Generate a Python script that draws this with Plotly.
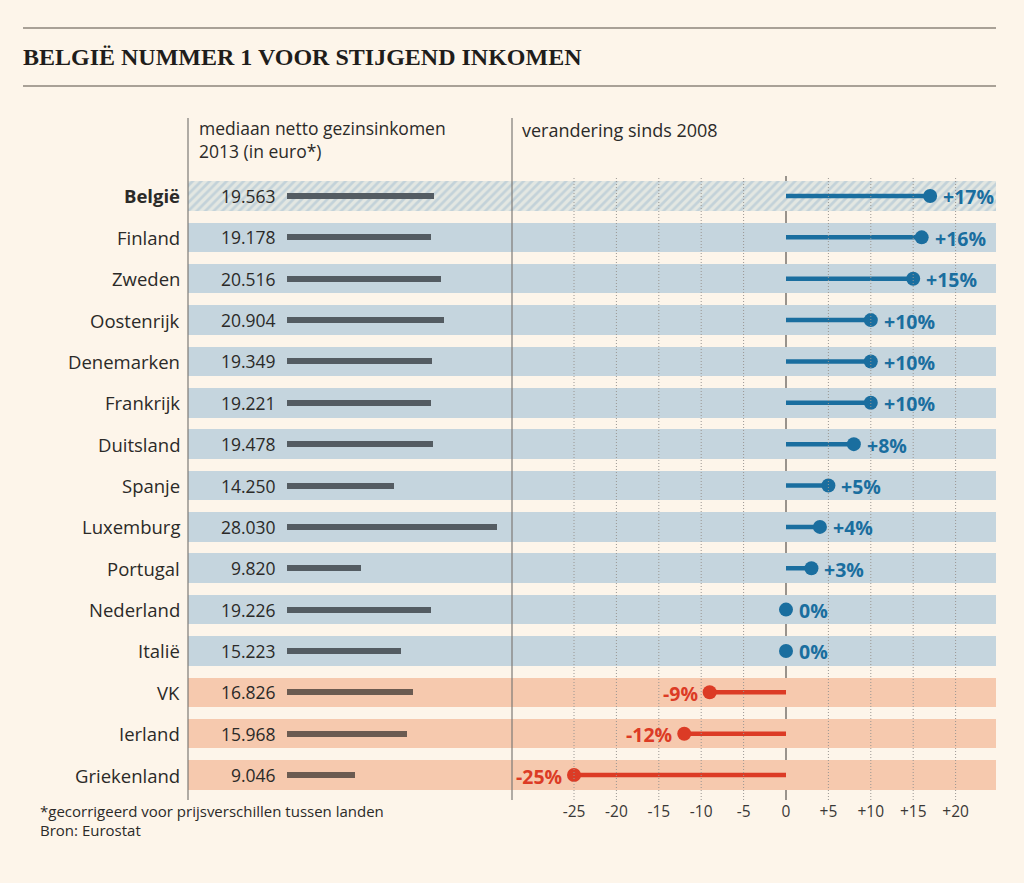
import plotly.graph_objects as go

# ---------------- data ----------------
countries = ["België", "Finland", "Zweden", "Oostenrijk", "Denemarken", "Frankrijk",
             "Duitsland", "Spanje", "Luxemburg", "Portugal", "Nederland", "Italië",
             "VK", "Ierland", "Griekenland"]
income_2013 = [19563, 19178, 20516, 20904, 19349, 19221, 19478, 14250, 28030,
               9820, 19226, 15223, 16826, 15968, 9046]
change_since_2008 = [17, 16, 15, 10, 10, 10, 8, 5, 4, 3, 0, 0, -9, -12, -25]
change_ticks = [-25, -20, -15, -10, -5, 0, 5, 10, 15, 20]
change_ticktext = ["-25", "-20", "-15", "-10", "-5", "0", "+5", "+10", "+15", "+20"]

title = "BELGIË NUMMER 1 VOOR STIJGEND INKOMEN"
hdr_income = ["mediaan netto gezinsinkomen", "2013 (in euro*)"]
hdr_change = "verandering sinds 2008"
footnotes = ["*gecorrigeerd voor prijsverschillen tussen landen", "Bron: Eurostat"]

# ---------------- style ----------------
W, H = 1024, 883
BG = "#fdf5ea"
BAND_BLUE = "#c5d5de"
BAND_RED = "#f6c9ae"
BLUE = "#1a6e9f"
RED = "#dc3b25"
BAR_GREY = "#545c62"
BAR_BROWN = "#6b5b51"
TXT = "#2b2a28"
FONT = "Open Sans"

def px(x):
    return x / W

def py(y):
    return 1 - y / H

n = len(countries)
rows = list(range(n))
neg = [c < 0 for c in change_since_2008]

# y axis: row i centred at pixel 196 + i*41.36
pitch = 41.36
y_top_px, y_bot_px = 118, 800
y_rng = [(y_bot_px - 196) / pitch, (y_top_px - 196) / pitch]

# income axis: 0 at px 287, 0.0075 px/euro
eur_per_px = 1 / 0.0075
inc_rng = [(188 - 287) * eur_per_px, (512 - 287) * eur_per_px]
# change axis: 0 at px 786, 8.48 px/unit
chg_rng = [(512 - 786) / 8.48, (996 - 786) / 8.48]

fig = go.Figure()

band_w = 29.5 / pitch
# plain bands
fig.add_trace(go.Bar(
    y=rows[1:], x=[1] * (n - 1), base=0, orientation="h", width=band_w,
    marker=dict(color=[BAND_RED if ng else BAND_BLUE for ng in neg[1:]], line_width=0),
    xaxis="x", yaxis="y", hoverinfo="skip", showlegend=False))
# hatched band for België
fig.add_trace(go.Bar(
    y=rows[:1], x=[1], base=0, orientation="h", width=band_w,
    marker=dict(color=BAND_BLUE, line_width=0,
                pattern=dict(shape="/", bgcolor="#e3e7e2", fgcolor="#c3d2d9",
                             size=6, solidity=0.45, fillmode="replace")),
    xaxis="x", yaxis="y", hoverinfo="skip", showlegend=False))

# income bars
fig.add_trace(go.Bar(
    y=rows, x=income_2013, base=0, orientation="h", width=6 / pitch,
    marker=dict(color=[BAR_BROWN if ng else BAR_GREY for ng in neg], line_width=0),
    xaxis="x2", yaxis="y", hoverinfo="skip", showlegend=False))

# lollipop stems
for sign, col in ((False, BLUE), (True, RED)):
    xs, ys = [], []
    for i, c in enumerate(change_since_2008):
        if (c < 0) == sign:
            xs += [0, c, None]
            ys += [i, i, None]
    fig.add_trace(go.Scatter(x=xs, y=ys, mode="lines", line=dict(color=col, width=4.5),
                             xaxis="x3", yaxis="y", hoverinfo="skip", showlegend=False))
# dots
fig.add_trace(go.Scatter(
    x=change_since_2008, y=rows, mode="markers",
    marker=dict(size=14, color=[RED if ng else BLUE for ng in neg], line_width=0),
    xaxis="x3", yaxis="y", hoverinfo="skip", showlegend=False))

annotations = []
shapes = []

# country labels
for i, c in enumerate(countries):
    txt = f"<b>{c}</b>" if i == 0 else c
    annotations.append(dict(x=px(182), xref="paper", y=i, yref="y", text=txt,
                            showarrow=False, xanchor="right", yanchor="middle",
                            font=dict(family=FONT, size=18.5, color=TXT)))
# income values
for i, v in enumerate(income_2013):
    s = f"{v:,}".replace(",", ".")
    annotations.append(dict(x=0, xref="x2", y=i, yref="y", text=s, showarrow=False,
                            xanchor="right", yanchor="middle", xshift=-9,
                            font=dict(family=FONT, size=17.5, color=TXT)))
# change labels
for i, c in enumerate(change_since_2008):
    if c < 0:
        s, anchor, shift, col = f"{c}%", "right", -10, RED
    else:
        s, anchor, shift, col = (f"+{c}%" if c > 0 else "0%"), "left", 11, BLUE
    annotations.append(dict(x=c, xref="x3", y=i, yref="y", text=f"<b>{s}</b>",
                            showarrow=False, xanchor=anchor, yanchor="middle",
                            xshift=shift, yshift=-1,
                            font=dict(family=FONT, size=19.5, color=col)))

# headers
annotations.append(dict(x=px(197), y=py(140), xref="paper", yref="paper",
                        text="<br>".join(hdr_income), align="left",
                        showarrow=False, xanchor="left", yanchor="middle",
                        font=dict(family=FONT, size=17.5, color=TXT)))
annotations.append(dict(x=px(520), y=py(129.5), xref="paper", yref="paper", text=hdr_change,
                        showarrow=False, xanchor="left", yanchor="middle",
                        font=dict(family=FONT, size=18, color=TXT)))
# title
annotations.append(dict(x=px(21), y=py(57), xref="paper", yref="paper",
                        text=f"<b>{title}</b>", showarrow=False, xanchor="left",
                        yanchor="middle",
                        font=dict(family="Liberation Serif", size=24, color="#1f1d1b")))
# footnotes
for k, f in enumerate(footnotes):
    annotations.append(dict(x=px(38), y=py(811 + 19 * k), xref="paper", yref="paper",
                            text=f, showarrow=False, xanchor="left", yanchor="middle",
                            font=dict(family=FONT, size=15, color=TXT)))

# title rules
for yy in (28, 86):
    shapes.append(dict(type="line", xref="paper", yref="paper", x0=px(23), x1=px(996),
                       y0=py(yy), y1=py(yy), line=dict(color="#8d857b", width=1.5)))
# column dividers
for xx in (188, 512):
    shapes.append(dict(type="line", xref="paper", yref="paper", x0=px(xx), x1=px(xx),
                       y0=py(118), y1=py(800), line=dict(color="#7d7a76", width=1.2),
                       layer="above"))
# grid lines on change axis
for t in change_ticks:
    if t == 0:
        shapes.append(dict(type="line", xref="x3", yref="paper", x0=t, x1=t,
                           y0=py(176), y1=py(800), line=dict(color="#77726d", width=1.5),
                           layer="below"))
    else:
        shapes.append(dict(type="line", xref="x3", yref="paper", x0=t, x1=t,
                           y0=py(178), y1=py(800),
                           line=dict(color="#9a9692", width=1, dash="1px,2px"),
                           layer="above"))

fig.update_layout(
    width=W, height=H, autosize=False,
    margin=dict(l=0, r=0, t=0, b=0),
    paper_bgcolor=BG, plot_bgcolor="rgba(0,0,0,0)",
    barmode="overlay", bargap=0,
    showlegend=False,
    xaxis=dict(domain=[px(188), px(996)], range=[0, 1], visible=False, fixedrange=True),
    xaxis2=dict(domain=[px(188), px(512)], range=inc_rng, visible=False, anchor="y"),
    xaxis3=dict(domain=[px(512), px(996)], range=chg_rng, anchor="y",
                tickmode="array", tickvals=change_ticks, ticktext=change_ticktext,
                showgrid=False, zeroline=False, showline=False, ticks="",
                tickfont=dict(family=FONT, size=15.5, color="#3a3836")),
    yaxis=dict(domain=[py(y_bot_px), py(y_top_px)], range=y_rng, visible=False),
    annotations=annotations, shapes=shapes,
)

fig.write_html("out.html", config={"displayModeBar": False},
               post_script="document.body.style.margin='0';document.body.style.overflow='hidden';")
